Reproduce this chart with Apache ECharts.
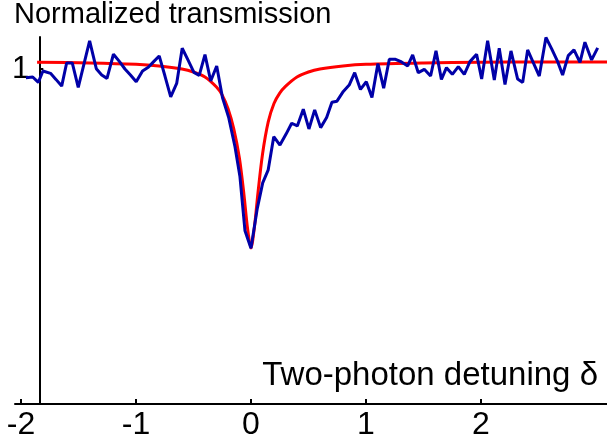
<!DOCTYPE html>
<html>
<head>
<meta charset="utf-8">
<script src="https://cdn.jsdelivr.net/npm/echarts@6/dist/echarts.min.js"></script>
<style>
html,body{margin:0;padding:0;background:#fff;}
#chart{width:607px;height:443px;}
</style>
</head>
<body>
<div id="chart"></div>
<script>
// Measured data (two-photon detuning vs normalized transmission)
const dataX = [-1.957,-1.898,-1.849,-1.809,-1.743,-1.696,-1.646,-1.603,-1.554,-1.502,
  -1.452,-1.403,-1.345,-1.298,-1.252,-1.196,-1.143,-1.096,-1.048,-0.998,
  -0.943,-0.893,-0.846,-0.798,-0.748,-0.698,-0.646,-0.598,-0.548,-0.496,
  -0.450,-0.400,-0.350,-0.298,-0.248,-0.193,-0.139,-0.096,-0.052,0.000,
  0.055,0.102,0.150,0.198,0.252,0.304,0.354,0.403,0.455,0.504,
  0.554,0.606,0.658,0.704,0.748,0.803,0.854,0.902,0.952,1.003,
  1.052,1.104,1.154,1.203,1.257,1.309,1.363,1.406,1.455,1.507,
  1.562,1.609,1.656,1.700,1.751,1.803,1.855,1.904,1.962,2.006,
  2.058,2.116,2.159,2.209,2.261,2.319,2.363,2.406,2.454,2.507,
  2.565,2.615,2.667,2.710,2.759,2.809,2.861,2.904,2.962,3.015];
const dataY = [0.974,0.976,0.960,0.994,0.987,0.969,0.949,1.018,1.018,0.945,
  1.015,1.084,1.001,0.982,0.972,1.044,1.022,1.000,0.982,0.962,
  0.994,1.005,1.022,1.039,0.979,0.917,0.957,1.062,1.027,0.990,
  0.981,1.043,0.964,1.009,0.915,0.854,0.768,0.679,0.517,0.465,
  0.584,0.660,0.699,0.798,0.773,0.805,0.838,0.830,0.880,0.821,
  0.878,0.825,0.855,0.901,0.904,0.933,0.952,0.989,0.939,0.962,
  0.915,1.016,0.943,1.029,1.029,1.021,1.009,1.042,0.989,0.999,
  0.979,1.054,0.969,1.004,0.984,1.007,0.984,1.022,1.044,0.970,
  1.084,0.967,1.062,0.954,1.054,0.970,0.960,1.057,1.020,0.979,
  1.094,1.060,1.022,0.982,1.040,1.057,1.020,1.080,1.027,1.063];

// Fit curve
const fitX = [-1.86,-1.4,-1.0,-0.8,-0.6,-0.5,-0.4,-0.3,-0.25,-0.2,-0.15,-0.1,-0.06,-0.03,0,
  0.03,0.06,0.1,0.15,0.2,0.25,0.3,0.4,0.5,0.6,0.8,1.0,1.5,2.0,2.5,3.1];
const fitY = [1.020,1.018,1.014,1.009,1.000,0.991,0.976,0.946,0.922,0.882,0.822,0.733,0.622,0.525,0.466,
  0.528,0.628,0.745,0.842,0.897,0.928,0.948,0.976,0.991,1.000,1.009,1.014,1.018,1.020,1.021,1.021];

const xTicks = [-2,-1,0,1,2];
const yTicks = [1];
const titleText = 'Normalized transmission';
const xName = 'Two-photon detuning \u03b4';

const measured = dataX.map((x,i)=>[x,dataY[i]]);
const fit = fitX.map((x,i)=>[x,fitY[i]]);

const chart = echarts.init(document.getElementById('chart'), null, {renderer:'canvas'});
const FONT = 'Liberation Sans, Arial, sans-serif';
chart.setOption({
  animation:false,
  backgroundColor:'#fff',
  grid:{left:15,right:0,top:37,bottom:39,containLabel:false},
  xAxis:{
    type:'value', min:-2.052, max:3.096,
    axisLine:{show:true,onZero:false,lineStyle:{color:'#000',width:2}},
    axisTick:{show:true,inside:true,length:5,customValues:xTicks,lineStyle:{color:'#000',width:2}},
    axisLabel:{show:true,customValues:xTicks,margin:5,fontSize:32,color:'#000',fontFamily:FONT},
    splitLine:{show:false}
  },
  yAxis:{
    type:'value', min:0, max:1.0955, offset:-24.3,
    axisLine:{show:true,onZero:false,lineStyle:{color:'#000',width:2}},
    axisTick:{show:true,inside:true,length:4,customValues:yTicks,lineStyle:{color:'#000',width:2}},
    axisLabel:{show:true,customValues:yTicks,margin:10,fontSize:31,color:'#000',fontFamily:FONT},
    splitLine:{show:false}
  },
  graphic:[
    {type:'text',left:14,top:0,style:{text:titleText,font:'29px '+FONT,fill:'#000'}},
    {type:'text',right:9,top:359,style:{text:xName,font:'33px '+FONT,fill:'#000'}}
  ],
  series:[
    {type:'line',data:fit,smooth:0.3,showSymbol:false,symbol:'none',
     lineStyle:{color:'#ff0000',width:3},z:2},
    {type:'line',data:measured,showSymbol:false,symbol:'none',
     lineStyle:{color:'#0000a8',width:3},z:3}
  ]
});
</script>
</body>
</html>
